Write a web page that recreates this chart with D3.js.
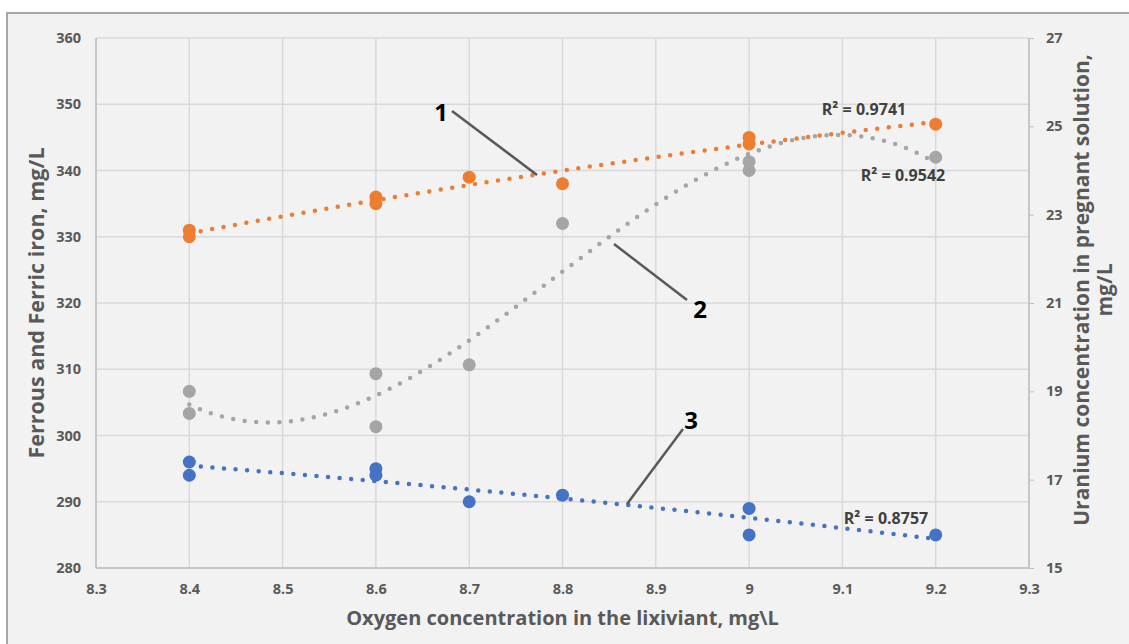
<!DOCTYPE html>
<meta charset="utf-8">
<head>
<script src="https://d3js.org/d3.v7.min.js"></script>
<style>
  body { margin: 0; background: #fff; }
  svg text { font-family: "Open Sans", "Liberation Sans", Arial, sans-serif; }
</style>
</head>
<body>
<svg id="chart" width="1129" height="644"></svg>
<script>
// oxygen in lixiviant, mg/L
var oxygen = [8.4, 8.4, 8.6, 8.6, 8.7, 8.8, 9.0, 9.0, 9.2];
// series
var ferric = [331, 330, 336, 335, 339, 338, 345, 344, 347];      // 1, left axis
var uranium = [19.0, 18.5, 19.4, 18.2, 19.6, 22.8, 24.2, 24.0, 24.3]; // 2, right axis
var ferrous = [296, 294, 295, 294, 290, 291, 289, 285, 285];     // 3, left axis

var xTicks = [8.3, 8.4, 8.5, 8.6, 8.7, 8.8, 8.9, 9, 9.1, 9.2, 9.3];
var leftTicks = [280, 290, 300, 310, 320, 330, 340, 350, 360];
var rightTicks = [15, 17, 19, 21, 23, 25, 27];
var r2 = ["R\u00b2 = 0.9741", "R\u00b2 = 0.9542", "R\u00b2 = 0.8757"];

var svg = d3.select("#chart");
var L = 96, R = 1029, T = 38, B = 568;

svg.append("rect").attr("x", 7).attr("y", 13).attr("width", 1130).attr("height", 640)
  .attr("fill", "#f2f2f2").attr("stroke", "#8c8c8c").attr("stroke-width", 1.5);

var x = d3.scaleLinear().domain([8.3, 9.3]).range([L, R]);
var yL = d3.scaleLinear().domain([280, 360]).range([B, T]);
var yR = d3.scaleLinear().domain([15, 27]).range([B, T]);

// grid
svg.append("g").selectAll("line").data(leftTicks).join("line")
  .attr("x1", L).attr("x2", R).attr("y1", d => yL(d)).attr("y2", d => yL(d))
  .attr("stroke", "#d9d9d9").attr("stroke-width", 1.5);
svg.append("g").selectAll("line").data(xTicks).join("line")
  .attr("y1", T).attr("y2", B).attr("x1", d => x(d)).attr("x2", d => x(d))
  .attr("stroke", "#d9d9d9").attr("stroke-width", 1.5);
svg.append("line").attr("x1", L).attr("x2", R).attr("y1", B).attr("y2", B)
  .attr("stroke", "#bfbfbf").attr("stroke-width", 1.5);
svg.append("line").attr("x1", L).attr("x2", L).attr("y1", T).attr("y2", B)
  .attr("stroke", "#bfbfbf").attr("stroke-width", 1.5);

// axes
var tickStyle = g => {
  g.select(".domain").remove();
  g.selectAll("text").attr("fill", "#595959").attr("font-size", 14.5).attr("font-weight", "bold");
};
svg.append("g").attr("transform", "translate(" + L + ",0)")
  .call(d3.axisLeft(yL).tickValues(leftTicks).tickSize(0).tickPadding(15))
  .call(tickStyle);
svg.append("g").attr("transform", "translate(0," + B + ")")
  .call(d3.axisBottom(x).tickValues(xTicks).tickSize(0).tickPadding(16).tickFormat(d3.format("")))
  .call(tickStyle);
var ra = svg.append("g").attr("transform", "translate(" + R + ",0)")
  .call(d3.axisRight(yR).tickValues(rightTicks).tickSize(5).tickPadding(12))
  .call(tickStyle);
ra.selectAll(".tick line").attr("stroke", "#bfbfbf");
svg.append("line").attr("x1", R).attr("x2", R).attr("y1", T).attr("y2", B)
  .attr("stroke", "#bfbfbf").attr("stroke-width", 1.5);

// axis titles
svg.append("text").attr("transform", "translate(44," + ((T + B) / 2) + ") rotate(-90)")
  .attr("text-anchor", "middle").attr("font-size", 21.5).attr("font-weight", "bold")
  .attr("fill", "#595959").text("Ferrous and Ferric iron, mg/L");
svg.append("text").attr("x", (L + R) / 2).attr("y", 625)
  .attr("text-anchor", "middle").attr("font-size", 20).attr("font-weight", "bold")
  .attr("fill", "#595959").text("Oxygen concentration in the lixiviant, mg\\L");
var rt = svg.append("text").attr("transform", "translate(1089,290) rotate(-90)")
  .attr("text-anchor", "middle").attr("font-size", 21).attr("font-weight", "bold")
  .attr("fill", "#595959");
rt.append("tspan").attr("x", 0).attr("dy", 0).text("Uranium concentration in pregnant solution,");
rt.append("tspan").attr("x", 0).attr("dy", 23).text("mg/L");

// least squares polynomial trendline (as the spreadsheet fitted it)
function polyfit(xs, ys, n) {
  var m = n + 1, A = [], b = [];
  for (var i = 0; i < m; i++) {
    A.push(new Array(m).fill(0)); b.push(0);
  }
  xs.forEach((xv, k) => {
    var u = xv - 8.8;
    for (var i = 0; i < m; i++) {
      b[i] += ys[k] * Math.pow(u, i);
      for (var j = 0; j < m; j++) A[i][j] += Math.pow(u, i + j);
    }
  });
  for (var i = 0; i < m; i++) {
    var p = i;
    for (var r = i + 1; r < m; r++) if (Math.abs(A[r][i]) > Math.abs(A[p][i])) p = r;
    [A[i], A[p]] = [A[p], A[i]]; [b[i], b[p]] = [b[p], b[i]];
    for (var r = i + 1; r < m; r++) {
      var f = A[r][i] / A[i][i];
      for (var c = i; c < m; c++) A[r][c] -= f * A[i][c];
      b[r] -= f * b[i];
    }
  }
  var c = new Array(m).fill(0);
  for (var i = m - 1; i >= 0; i--) {
    var s = b[i];
    for (var j = i + 1; j < m; j++) s -= A[i][j] * c[j];
    c[i] = s / A[i][i];
  }
  return xv => c.reduce((acc, ci, i) => acc + ci * Math.pow(xv - 8.8, i), 0);
}

var series = [
  {ys: ferric, y: yL, color: "#ed7d31", order: 2},
  {ys: uranium, y: yR, color: "#a5a5a5", order: 3},
  {ys: ferrous, y: yL, color: "#4472c4", order: 2}
];
var xs = d3.range(8.4, 9.2001, 0.005);
series.forEach(s => {
  var f = polyfit(oxygen, s.ys, s.order);
  svg.append("path").datum(xs)
    .attr("d", d3.line().x(d => x(d)).y(d => s.y(f(d))))
    .attr("fill", "none").attr("stroke", s.color).attr("stroke-width", 4.5)
    .attr("stroke-linecap", "round").attr("stroke-dasharray", "0 11.6");
});
series.forEach(s => {
  svg.append("g").selectAll("circle").data(s.ys).join("circle")
    .attr("cx", (d, i) => x(oxygen[i])).attr("cy", d => s.y(d)).attr("r", 6.5)
    .attr("fill", s.color);
});

// R² labels
var r2pos = [[864, 115], [903, 181], [886, 524]];
r2.forEach((t, i) => {
  svg.append("text").attr("x", r2pos[i][0]).attr("y", r2pos[i][1]).attr("text-anchor", "middle")
    .attr("font-size", 16).attr("font-weight", "bold").attr("fill", "#404040").text(t);
});

// callouts
var callouts = [
  {n: "1", lx: 441, ly: 121, x1: 452, y1: 111, x2: 537, y2: 175},
  {n: "2", lx: 700, ly: 318, x1: 687, y1: 300, x2: 614, y2: 244},
  {n: "3", lx: 691, ly: 429, x1: 683, y1: 429, x2: 627, y2: 504}
];
callouts.forEach(c => {
  svg.append("line").attr("x1", c.x1).attr("y1", c.y1).attr("x2", c.x2).attr("y2", c.y2)
    .attr("stroke", "#595959").attr("stroke-width", 2.5);
  svg.append("text").attr("x", c.lx).attr("y", c.ly).attr("text-anchor", "middle")
    .attr("font-size", 24).attr("font-weight", "bold").attr("fill", "#000").text(c.n);
});
</script>
</body>
